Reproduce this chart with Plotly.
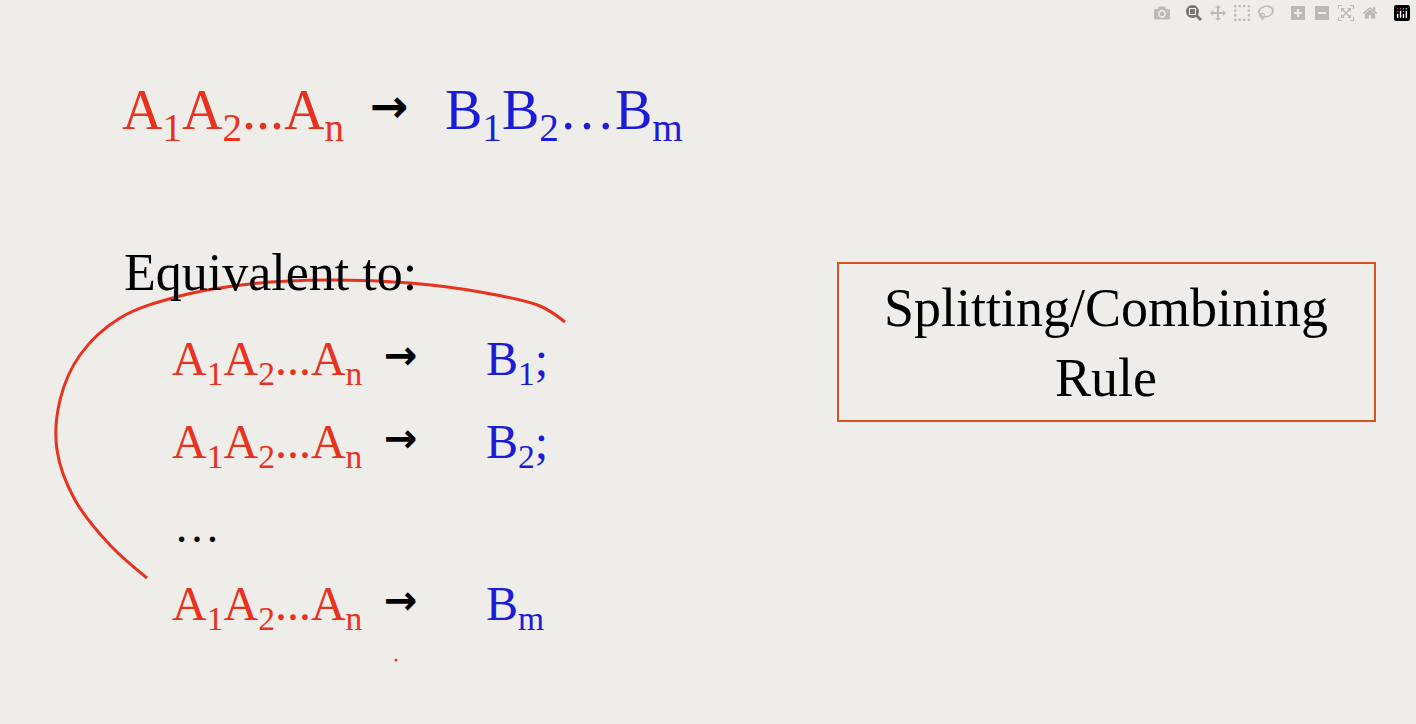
import plotly.graph_objects as go

RED = "#e8321e"
BLUE = "#1c1cd6"
FONT = "Liberation Serif"

# left-hand side / right-hand side pieces
lhs = "A<sub>1</sub>A<sub>2</sub>...A<sub>n</sub>"
rhs_top = "B<sub>1</sub>B<sub>2</sub>…B<sub>m</sub>"
rhs_rows = ["B<sub>1</sub>;", "B<sub>2</sub>;", None, "B<sub>m</sub>"]
row_y = [362, 445, 532, 607]

# hand-drawn red stroke (pixel coords)
stroke_x = [147, 110, 75, 57, 60, 80, 120, 180, 250, 330, 410, 480, 540, 565]
stroke_y = [578, 545, 500, 450, 400, 355, 318, 296, 284, 280, 283, 292, 306, 322]

fig = go.Figure()
fig.add_trace(go.Scatter(x=stroke_x, y=stroke_y, mode="lines",
                         line=dict(color=RED, width=3, shape="spline"),
                         hoverinfo="skip"))
fig.add_trace(go.Scatter(x=[396], y=[660], mode="markers",
                         marker=dict(color=RED, size=3), hoverinfo="skip"))

def txt(x, y, s, color, size=50, anchor="left", family=FONT):
    fig.add_annotation(x=x, y=y, text=s, showarrow=False, xanchor=anchor,
                       yanchor="middle", font=dict(family=family, size=size, color=color))

txt(120, 114, lhs, RED, 56)
txt(368, 106, "<b>→</b>", "black", 46, family="DejaVu Sans")
txt(443, 114, rhs_top, BLUE, 56)
txt(122, 272, "Equivalent to:", "black", 52)
for y, r in zip(row_y, rhs_rows):
    if r is None:
        txt(172, y - 6, "…", "black", 46)
        continue
    txt(170, y, lhs, RED, 48)
    txt(382, y - 7, "<b>→</b>", "black", 40, family="DejaVu Sans")
    txt(484, y, r, BLUE, 48)

fig.add_shape(type="rect", x0=838, x1=1375, y0=263, y1=421,
              line=dict(color="#d9531e", width=2))
txt(1106, 343, "Splitting/Combining<br>Rule", "black", 54, anchor="center")

fig.update_layout(
    width=1416, height=724, margin=dict(l=0, r=0, t=0, b=0),
    paper_bgcolor="#eeede9", plot_bgcolor="#eeede9", showlegend=False,
    xaxis=dict(range=[0, 1416], visible=False),
    yaxis=dict(range=[724, 0], visible=False),
)
fig.write_html("out.html",
               post_script="document.body.style.margin='0';document.body.style.background='#eeede9';")
